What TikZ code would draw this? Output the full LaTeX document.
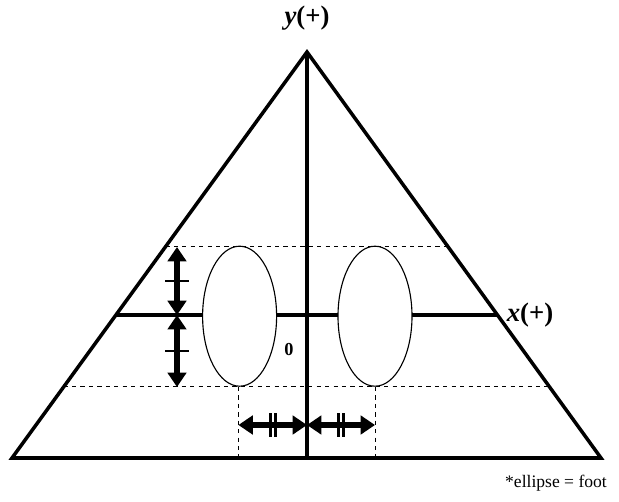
\documentclass[tikz,border=0pt]{standalone}
\usepackage{fontspec}
\setmainfont{Liberation Serif}
\usetikzlibrary{arrows.meta,calc,shapes.geometric}

\tikzset{
  frame/.style={line width=2.5pt},
  guide/.style={dashed, line width=0.7pt},
  dimarrow/.style={line width=4pt,
    {Triangle[length=0.36cm,width=0.46cm]}-{Triangle[length=0.36cm,width=0.46cm]}},
  tickmark/.style={line width=2pt},
  foot/.style={draw, ellipse, fill=white, line width=0.8pt,
    minimum width=1.85cm, minimum height=3.5cm, inner sep=0pt},
}

\begin{document}
\begin{tikzpicture}[font=\fontsize{19}{22}\selectfont]
\useasboundingbox (0,0) rectangle (15.475,12.525);
% ---------- triangle and axes ----------
\coordinate (apex) at (7.675,11.225);
\coordinate (bl) at (0.3,1.075);
\coordinate (br) at (15.025,1.075);
\coordinate (base) at (7.675,1.075);
\draw[frame, line join=miter] (bl) -- (apex) -- (br) -- cycle;
\draw[frame] (apex) -- (base);
\draw[frame] ($(bl)!0.352!(apex)$) -- ($(br)!0.352!(apex)$);
% guides
\draw[guide] ($(bl)!0.52!(apex)$) -- ($(br)!0.52!(apex)$);
\draw[guide] ($(bl)!0.175!(apex)$) -- ($(br)!0.175!(apex)$);
\draw[guide] (5.96,2.85) -- (5.96,1.075);
\draw[guide] (9.375,2.85) -- (9.375,1.075);
% ---------- feet ----------
\node[foot] (lfoot) at (5.99,4.62) {};
\node[foot] (rfoot) at (9.375,4.62) {};
% ---------- vertical dimension ----------
\coordinate (vt) at (4.425,6.35);
\coordinate (vm) at (4.425,4.648);
\coordinate (vb) at (4.425,2.85);
\draw[dimarrow] (vt) -- (vm);
\draw[dimarrow] (vm) -- (vb);
\draw[tickmark] ($(vt)!0.5!(vm)+(-0.29,0)$) -- ++(0.58,0);
\draw[tickmark] ($(vm)!0.5!(vb)+(-0.29,0)$) -- ++(0.58,0);
% ---------- horizontal dimension ----------
\coordinate (hl) at (5.96,1.9);
\coordinate (hm) at (7.675,1.9);
\coordinate (hr) at (9.375,1.9);
\draw[dimarrow] (hl) -- (hm);
\draw[dimarrow] (hm) -- (hr);
\foreach \d in {-0.065,0.065}{
  \draw[tickmark] ($(hl)!0.5!(hm)+(\d,-0.29)$) -- ++(0,0.58);
  \draw[tickmark] ($(hm)!0.5!(hr)+(\d,-0.29)$) -- ++(0,0.58);
}
% ---------- labels ----------
\node (ylab) at (7.675,12.075) {\textbf{\textit{y}(+)}};
\node (xlab) at (13.25,4.65) {\textbf{\textit{x}(+)}};
\node[font=\fontsize{13}{15}\selectfont\bfseries] (origin) at (7.225,3.775) {0};
\node[font=\fontsize{12.5}{14}\selectfont] (note) at (13.9,0.45) {*ellipse = foot};
\end{tikzpicture}
\end{document}
